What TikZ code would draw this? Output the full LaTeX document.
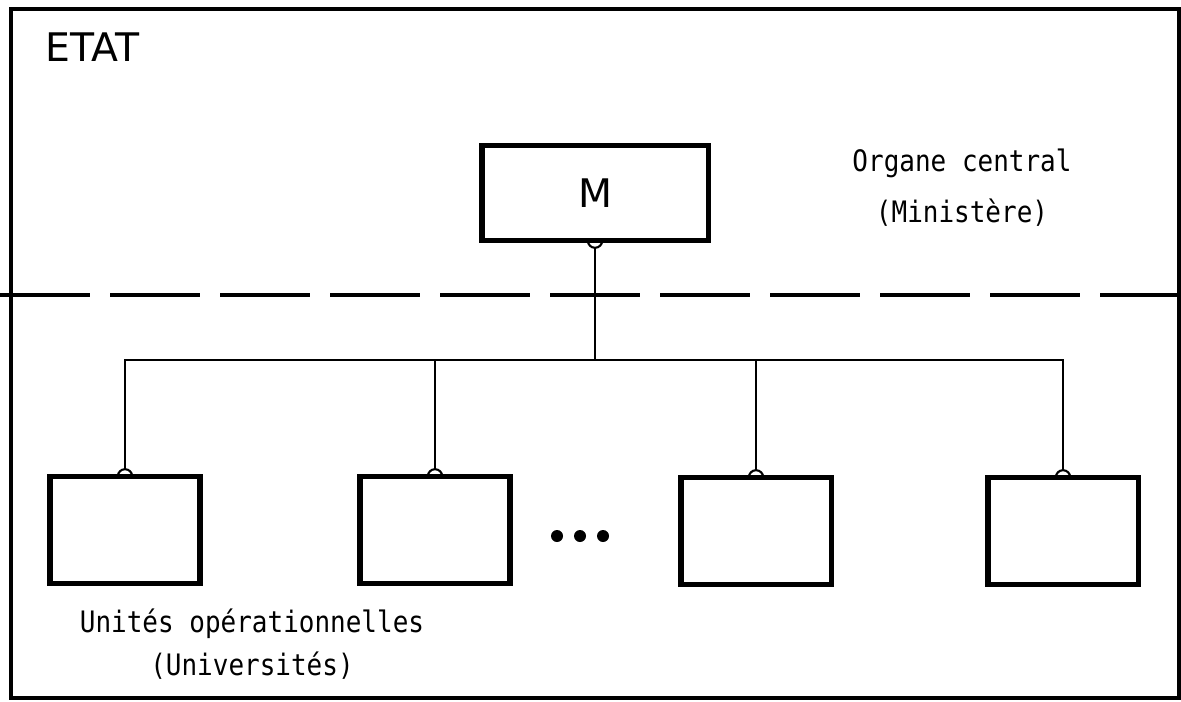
\documentclass[tikz,border=0pt]{standalone}
\usepackage{fontspec}
\usepackage{tikz}
\usetikzlibrary{positioning}
\newfontfamily\letterfont{DejaVu Sans}
\newfontfamily\typefont{DejaVu Sans Mono}[FakeStretch=0.88]
\tikzset{
  etat frame/.style={line width=2.3pt},
  organ box/.style={
    rectangle,
    draw=black,
    line width=3.6pt,
    outer sep=0pt,
    minimum width=5.65cm,
    minimum height=2.38cm,
    font=\letterfont\fontsize{28}{32}\selectfont,
  },
  unit box/.style={
    rectangle,
    draw=black,
    line width=3.6pt,
    outer sep=0pt,
    minimum width=3.75cm,
    minimum height=2.68cm,
  },
  title/.style={font=\letterfont\fontsize{28}{32}\selectfont, inner sep=0pt},
  caption/.style={font=\typefont\fontsize{21}{30}\selectfont, align=center, inner sep=0pt},
  link/.style={line width=1.5pt},
  bump/.style={line width=1.5pt},
  border line/.style={line width=2.3pt, dash pattern=on 2.25cm off 0.5cm},
}

\begin{document}
\begin{tikzpicture}[x=0.025cm, y=-0.025cm]
  \useasboundingbox (0,0) rectangle (1181,702);
  \draw[etat frame] (11,9) rectangle (1179,698);
  \node[title, anchor=base west] (etat) at (45,62) {ETAT};

  % organe central
  \node[organ box] (m) at (595,193) {M};
  \node[caption, anchor=base] (central) at (962,222) {Organe central\\[0.2cm](Ministère)};

  \draw[border line] (0,295) -- (1181,295);

  % unites operationnelles
  \node[unit box] (u1) at (125,530) {};
  \node[unit box] (u2) at (435,530) {};
  \node[unit box] (u3) at (756,531) {};
  \node[unit box] (u4) at (1063,531) {};
  \fill (557,536) circle[radius=0.15cm] (580,536) circle[radius=0.15cm] (603,536) circle[radius=0.15cm];
  \node[caption, anchor=base] (unites) at (252,675) {Unités opérationnelles\\(Universités)};

  \coordinate (bus) at (595,360);
  \draw[link, shorten <=0.18cm] (m.south) -- (bus);
  \draw[link, shorten <=0.18cm, shorten >=0.18cm] (u1.north) |- (bus) -| (u4.north);
  \draw[link, shorten >=0.18cm] (u2.north |- bus) -- (u2.north);
  \draw[link, shorten >=0.18cm] (u3.north |- bus) -- (u3.north);

  \draw[bump] (m.south) ++(0.18cm,0) arc[start angle=0, end angle=-180, radius=0.18cm];
  \draw[bump] (u1.north) ++(0.18cm,0) arc[start angle=0, end angle=180, radius=0.18cm];
  \draw[bump] (u2.north) ++(0.18cm,0) arc[start angle=0, end angle=180, radius=0.18cm];
  \draw[bump] (u3.north) ++(0.18cm,0) arc[start angle=0, end angle=180, radius=0.18cm];
  \draw[bump] (u4.north) ++(0.18cm,0) arc[start angle=0, end angle=180, radius=0.18cm];
\end{tikzpicture}
\end{document}
